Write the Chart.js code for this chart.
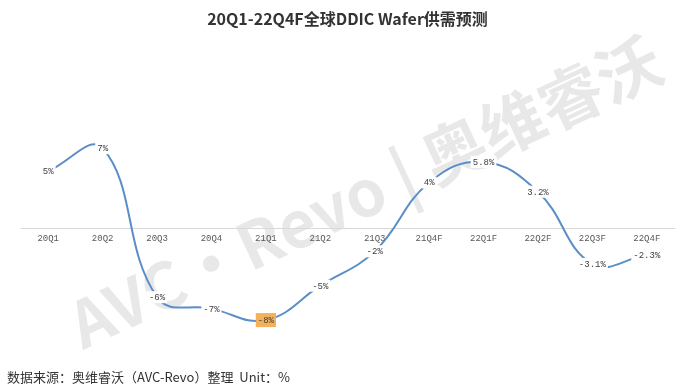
<!DOCTYPE html>
<html lang="zh">
<head>
<meta charset="utf-8">
<title>20Q1-22Q4F全球DDIC Wafer供需预测</title>
<script src="https://cdn.jsdelivr.net/npm/chart.js@4.4.1/dist/chart.umd.min.js"></script>
<style>
  html, body { margin: 0; padding: 0; background: #ffffff; }
  #chartBox { width: 690px; height: 389px; position: relative; }
</style>
</head>
<body>
<div id="chartBox"><canvas id="ddicChart"></canvas></div>
<script>
// --- Daten ---
const quarters = ['20Q1', '20Q2', '20Q3', '20Q4', '21Q1', '21Q2', '21Q3', '21Q4F', '22Q1F', '22Q2F', '22Q3F', '22Q4F'];
const balanceValues = [5, 7, -6, -7, -8, -5, -2, 4, 5.8, 3.2, -3.1, -2.3];
const valueLabels = ['5%', '7%', '-6%', '-7%', '-8%', '-5%', '-2%', '4%', '5.8%', '3.2%', '-3.1%', '-2.3%'];
const highlightIndex = 4; // 21Q1 ist im Original orange markiert

const titleText = '20Q1-22Q4F全球DDIC Wafer供需预测';
const sourceText = '数据来源：奥维睿沃（AVC-Revo）整理  Unit：%';
const watermarkText = 'AVC·Revo | 奥维睿沃';

const cjkFont = '"Noto Sans CJK SC", "Noto Sans", sans-serif';
const monoFont = '"Liberation Mono", "DejaVu Sans Mono", monospace';

// --- Plugins ---

// Wasserzeichen hinter allem
const watermarkPlugin = {
    id: 'watermark',
    beforeDraw(chart) {
        const ctx = chart.ctx;
        ctx.save();
        ctx.translate(365, 192);
        ctx.rotate(-25 * Math.PI / 180);
        ctx.font = 'bold 64px ' + cjkFont;
        ctx.fillStyle = 'rgba(0, 0, 0, 0.09)';
        ctx.textAlign = 'center';
        ctx.textBaseline = 'middle';
        ctx.fillText(watermarkText, 0, 0);
        ctx.restore();
    }
};

// Werte direkt auf den Punkten, mit Hintergrundkasten
const valueLabelPlugin = {
    id: 'valueLabels',
    afterDatasetsDraw(chart) {
        const ctx = chart.ctx;
        const meta = chart.getDatasetMeta(0);
        ctx.save();
        ctx.font = '9px ' + monoFont;
        ctx.textAlign = 'center';
        ctx.textBaseline = 'middle';
        meta.data.forEach((point, i) => {
            const text = valueLabels[i];
            const w = ctx.measureText(text).width + 4;
            const h = i === highlightIndex ? 14 : 12;
            ctx.fillStyle = i === highlightIndex ? '#f4b15c' : '#ffffff';
            ctx.fillRect(point.x - w / 2, point.y - h / 2, w, h);
            ctx.fillStyle = '#404040';
            ctx.fillText(text, point.x, point.y + 0.5);
        });
        ctx.restore();
    }
};

// Quellenangabe unten links
const sourcePlugin = {
    id: 'sourceNote',
    afterDraw(chart) {
        const ctx = chart.ctx;
        ctx.save();
        ctx.font = '13px ' + cjkFont;
        ctx.fillStyle = '#333333';
        ctx.textAlign = 'left';
        ctx.textBaseline = 'middle';
        ctx.fillText(sourceText, 7, 377);
        ctx.restore();
    }
};

// --- Chart ---
const ctx = document.getElementById('ddicChart').getContext('2d');

new Chart(ctx, {
    type: 'line',
    data: {
        labels: quarters,
        datasets: [{
            label: '供需',
            data: balanceValues,
            borderColor: '#5b8ec8',
            borderWidth: 2,
            tension: 0.42,
            pointRadius: 0,
            fill: false
        }]
    },
    options: {
        responsive: true,
        maintainAspectRatio: false,
        animation: false,
        layout: { padding: { left: 21, right: 16, top: 0, bottom: 46 } },
        plugins: {
            legend: { display: false },
            tooltip: { enabled: false },
            title: {
                display: true,
                text: titleText,
                color: '#333333',
                font: { family: cjkFont, size: 16, weight: 'bold' },
                padding: { top: 9, bottom: 34 }
            }
        },
        scales: {
            x: {
                position: { y: 0 },
                offset: true,
                grid: { display: false, drawTicks: false },
                border: { display: true, color: '#d9d9d9', width: 1 },
                ticks: {
                    color: '#595959',
                    font: { family: monoFont, size: 9 },
                    padding: 5,
                    maxRotation: 0,
                    autoSkip: false
                }
            },
            y: {
                display: false,
                min: -10,
                max: 14.5
            }
        }
    },
    plugins: [watermarkPlugin, valueLabelPlugin, sourcePlugin]
});
</script>
</body>
</html>
